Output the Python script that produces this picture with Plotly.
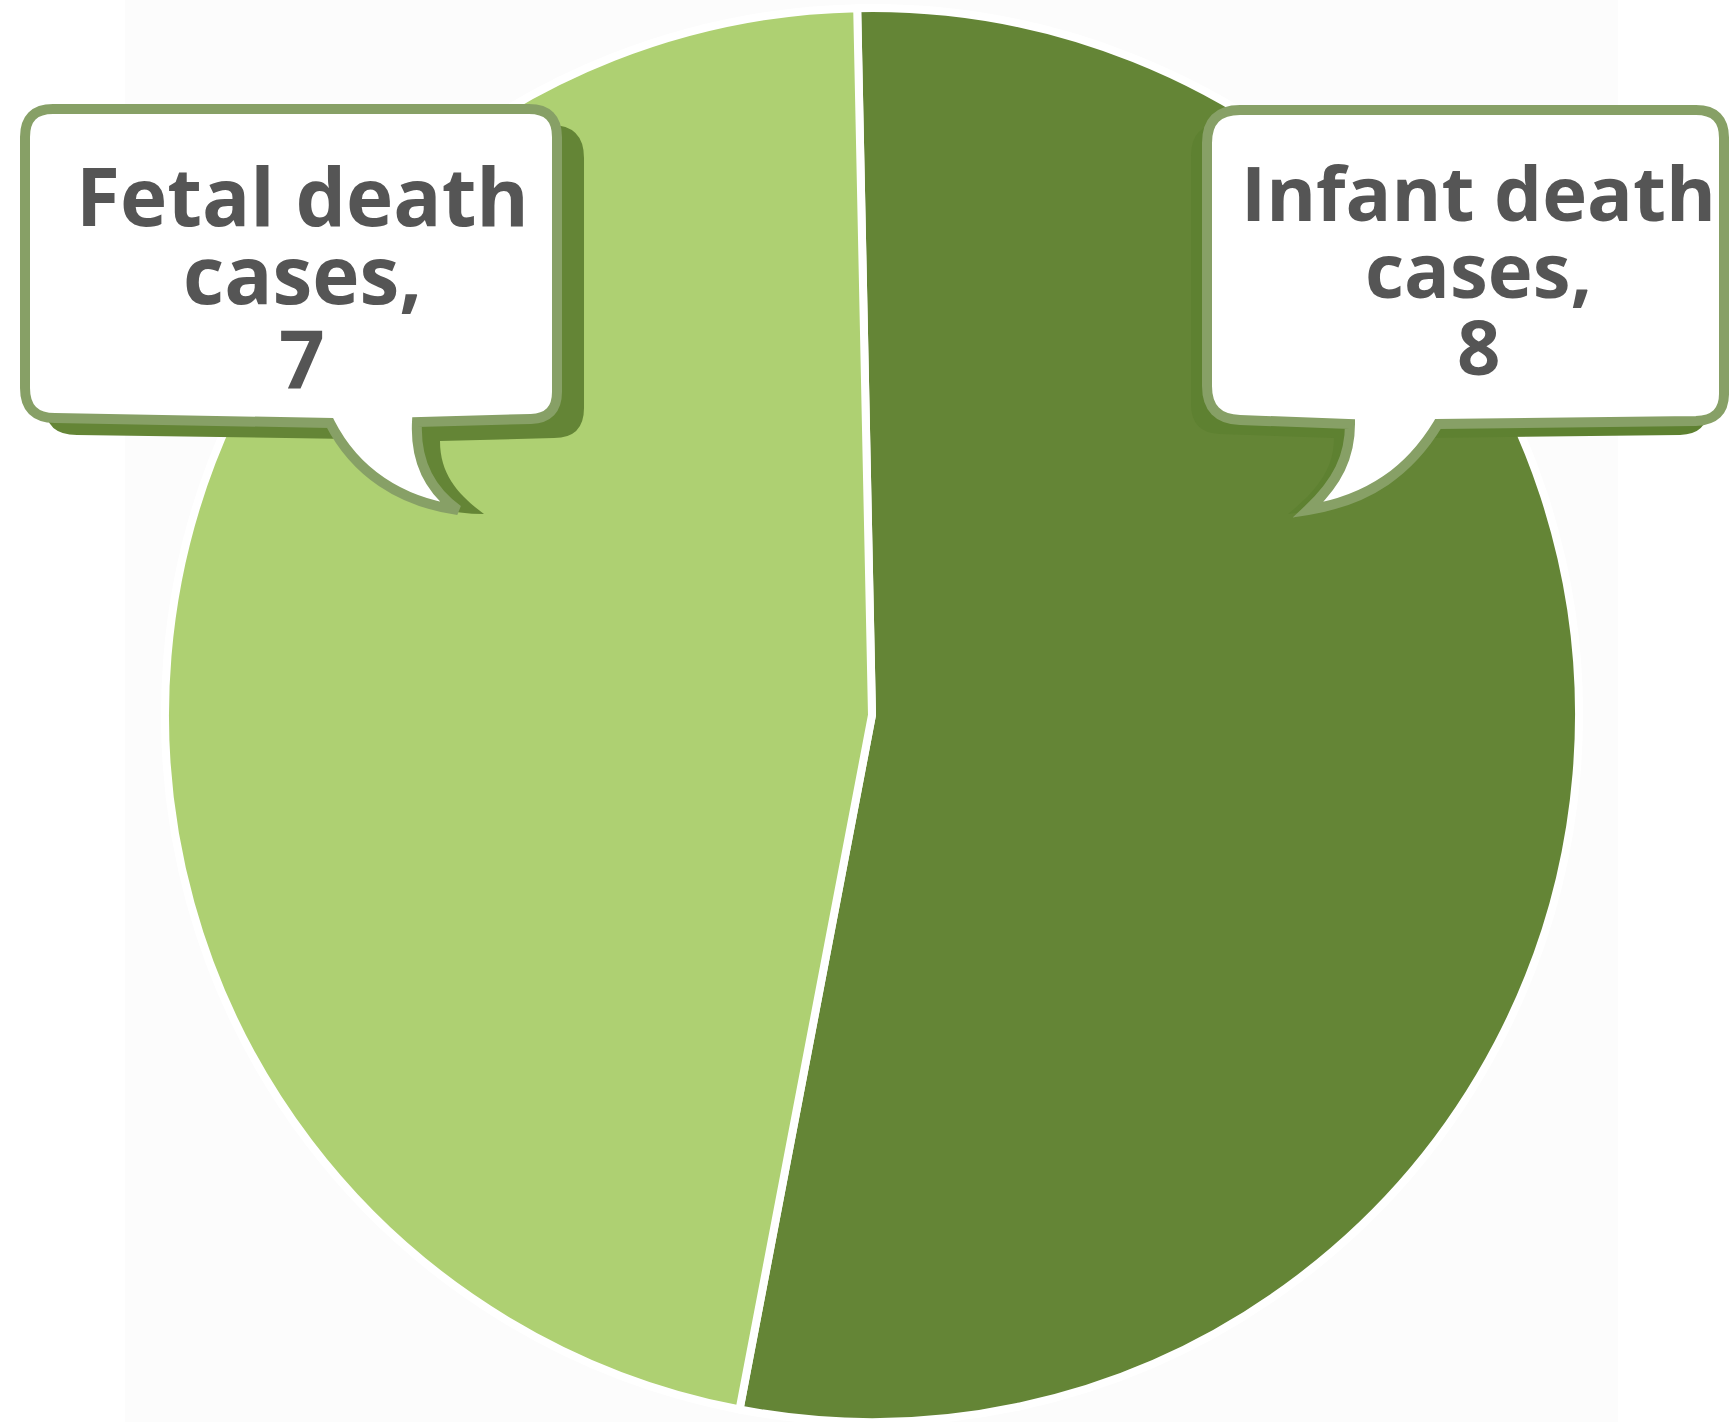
import plotly.graph_objects as go

# Figure size in pixels
W, H = 1729, 1422

# Data
labels = ["Infant death cases", "Fetal death cases"]
values = [8, 7]
slice_colors = ["#648536", "#AED072"]

# Callout text lines
fetal_lines = ["Fetal death", "cases,", "7"]
infant_lines = ["Infant death", "cases,", "8"]


def px(x):
    return x / W


def py(y):
    return 1 - y / H


def path(cmds):
    """Build an SVG path in paper units from pixel-space commands."""
    out = []
    for c in cmds:
        if isinstance(c, str):
            out.append(c)
        else:
            out.append(f"{px(c[0]):.5f},{py(c[1]):.5f}")
    return " ".join(out)


fig = go.Figure()

fig.add_trace(go.Pie(
    labels=labels,
    values=values,
    sort=False,
    direction="clockwise",
    rotation=-1.2,
    marker=dict(colors=slice_colors, line=dict(color="#FFFFFF", width=8)),
    textinfo="none",
    hoverinfo="label+value",
    showlegend=False,
    domain=dict(x=[162 / W, 1582 / W], y=[0, 1 - 8 / H]),
))

BORDER = "#87A066"
SHADOW = "#648536"
SHADOW_R = "#5E8131"

# Left callout: shadow then bubble
left_shadow = path([
    "M", (75, 125), "L", (551, 125), "Q", (584, 125), (584, 158),
    "L", (584, 408), "Q", (584, 438), (554, 438),
    "L", (440, 441), "C", (440, 476), (460, 496), (484, 514),
    "C", (430, 514), (375, 492), (350, 439),
    "L", (77, 435), "Q", (45, 435), (45, 405),
    "L", (45, 158), "Q", (45, 125), (75, 125), "Z",
])
left_bubble = path([
    "M", (53, 109), "L", (529, 109), "Q", (557, 109), (557, 137),
    "L", (557, 392), "Q", (557, 418), (531, 419),
    "L", (417, 422), "C", (415, 462), (430, 490), (458, 510),
    "C", (400, 502), (355, 472), (330, 423),
    "L", (55, 418), "Q", (25, 418), (25, 388),
    "L", (25, 137), "Q", (25, 109), (53, 109), "Z",
])

# Right callout: shadow then bubble
right_shadow = path([
    "M", (1222, 124), "L", (1680, 124), "Q", (1708, 124), (1708, 152),
    "L", (1708, 408), "Q", (1708, 434), (1680, 435),
    "L", (1422, 438), "C", (1394, 484), (1354, 506), (1288, 514),
    "C", (1318, 490), (1334, 468), (1334, 438),
    "L", (1220, 434), "Q", (1191, 433), (1191, 404),
    "L", (1191, 156), "Q", (1191, 124), (1222, 124), "Z",
])
right_bubble = path([
    "M", (1240, 110), "L", (1696, 110), "Q", (1724, 110), (1724, 138),
    "L", (1724, 394), "Q", (1724, 420), (1696, 421),
    "L", (1438, 424), "C", (1410, 470), (1370, 500), (1308, 510),
    "C", (1338, 482), (1350, 456), (1350, 424),
    "L", (1240, 420), "Q", (1207, 419), (1207, 386),
    "L", (1207, 143), "Q", (1207, 110), (1240, 110), "Z",
])

shapes = [
    # faint backdrop panel
    dict(type="rect", xref="paper", yref="paper", x0=125 / W, x1=1618 / W,
         y0=0, y1=1, fillcolor="#FCFCFC", line=dict(width=0), layer="below"),
    dict(type="path", xref="paper", yref="paper", path=left_shadow,
         fillcolor=SHADOW, line=dict(width=0), layer="above"),
    dict(type="path", xref="paper", yref="paper", path=left_bubble,
         fillcolor="#FFFFFF", line=dict(color=BORDER, width=10), layer="above"),
    dict(type="path", xref="paper", yref="paper", path=right_shadow,
         fillcolor=SHADOW_R, line=dict(width=0), layer="above"),
    dict(type="path", xref="paper", yref="paper", path=right_bubble,
         fillcolor="#FFFFFF", line=dict(color=BORDER, width=10), layer="above"),
]

annotations = []
# baselines (pixels) of the three text lines in each callout, font size
for lines, cx, baselines, size in [
    (fetal_lines, 302, [220, 298, 382], 80),
    (infant_lines, 1478, [216, 293, 370], 76),
]:
    font = dict(family="Open Sans", size=size, color="#555555", weight="bold")
    for text, b in zip(lines, baselines):
        annotations.append(dict(
            text=text, x=px(cx), y=py(b - 0.33 * size), xref="paper", yref="paper",
            xanchor="center", yanchor="middle", showarrow=False, font=font,
            height=round(size * 1.05),
        ))

fig.update_layout(
    width=W, height=H,
    margin=dict(l=0, r=0, t=0, b=0),
    paper_bgcolor="#FFFFFF",
    shapes=shapes,
    annotations=annotations,
)

fig.write_html("out.html")
